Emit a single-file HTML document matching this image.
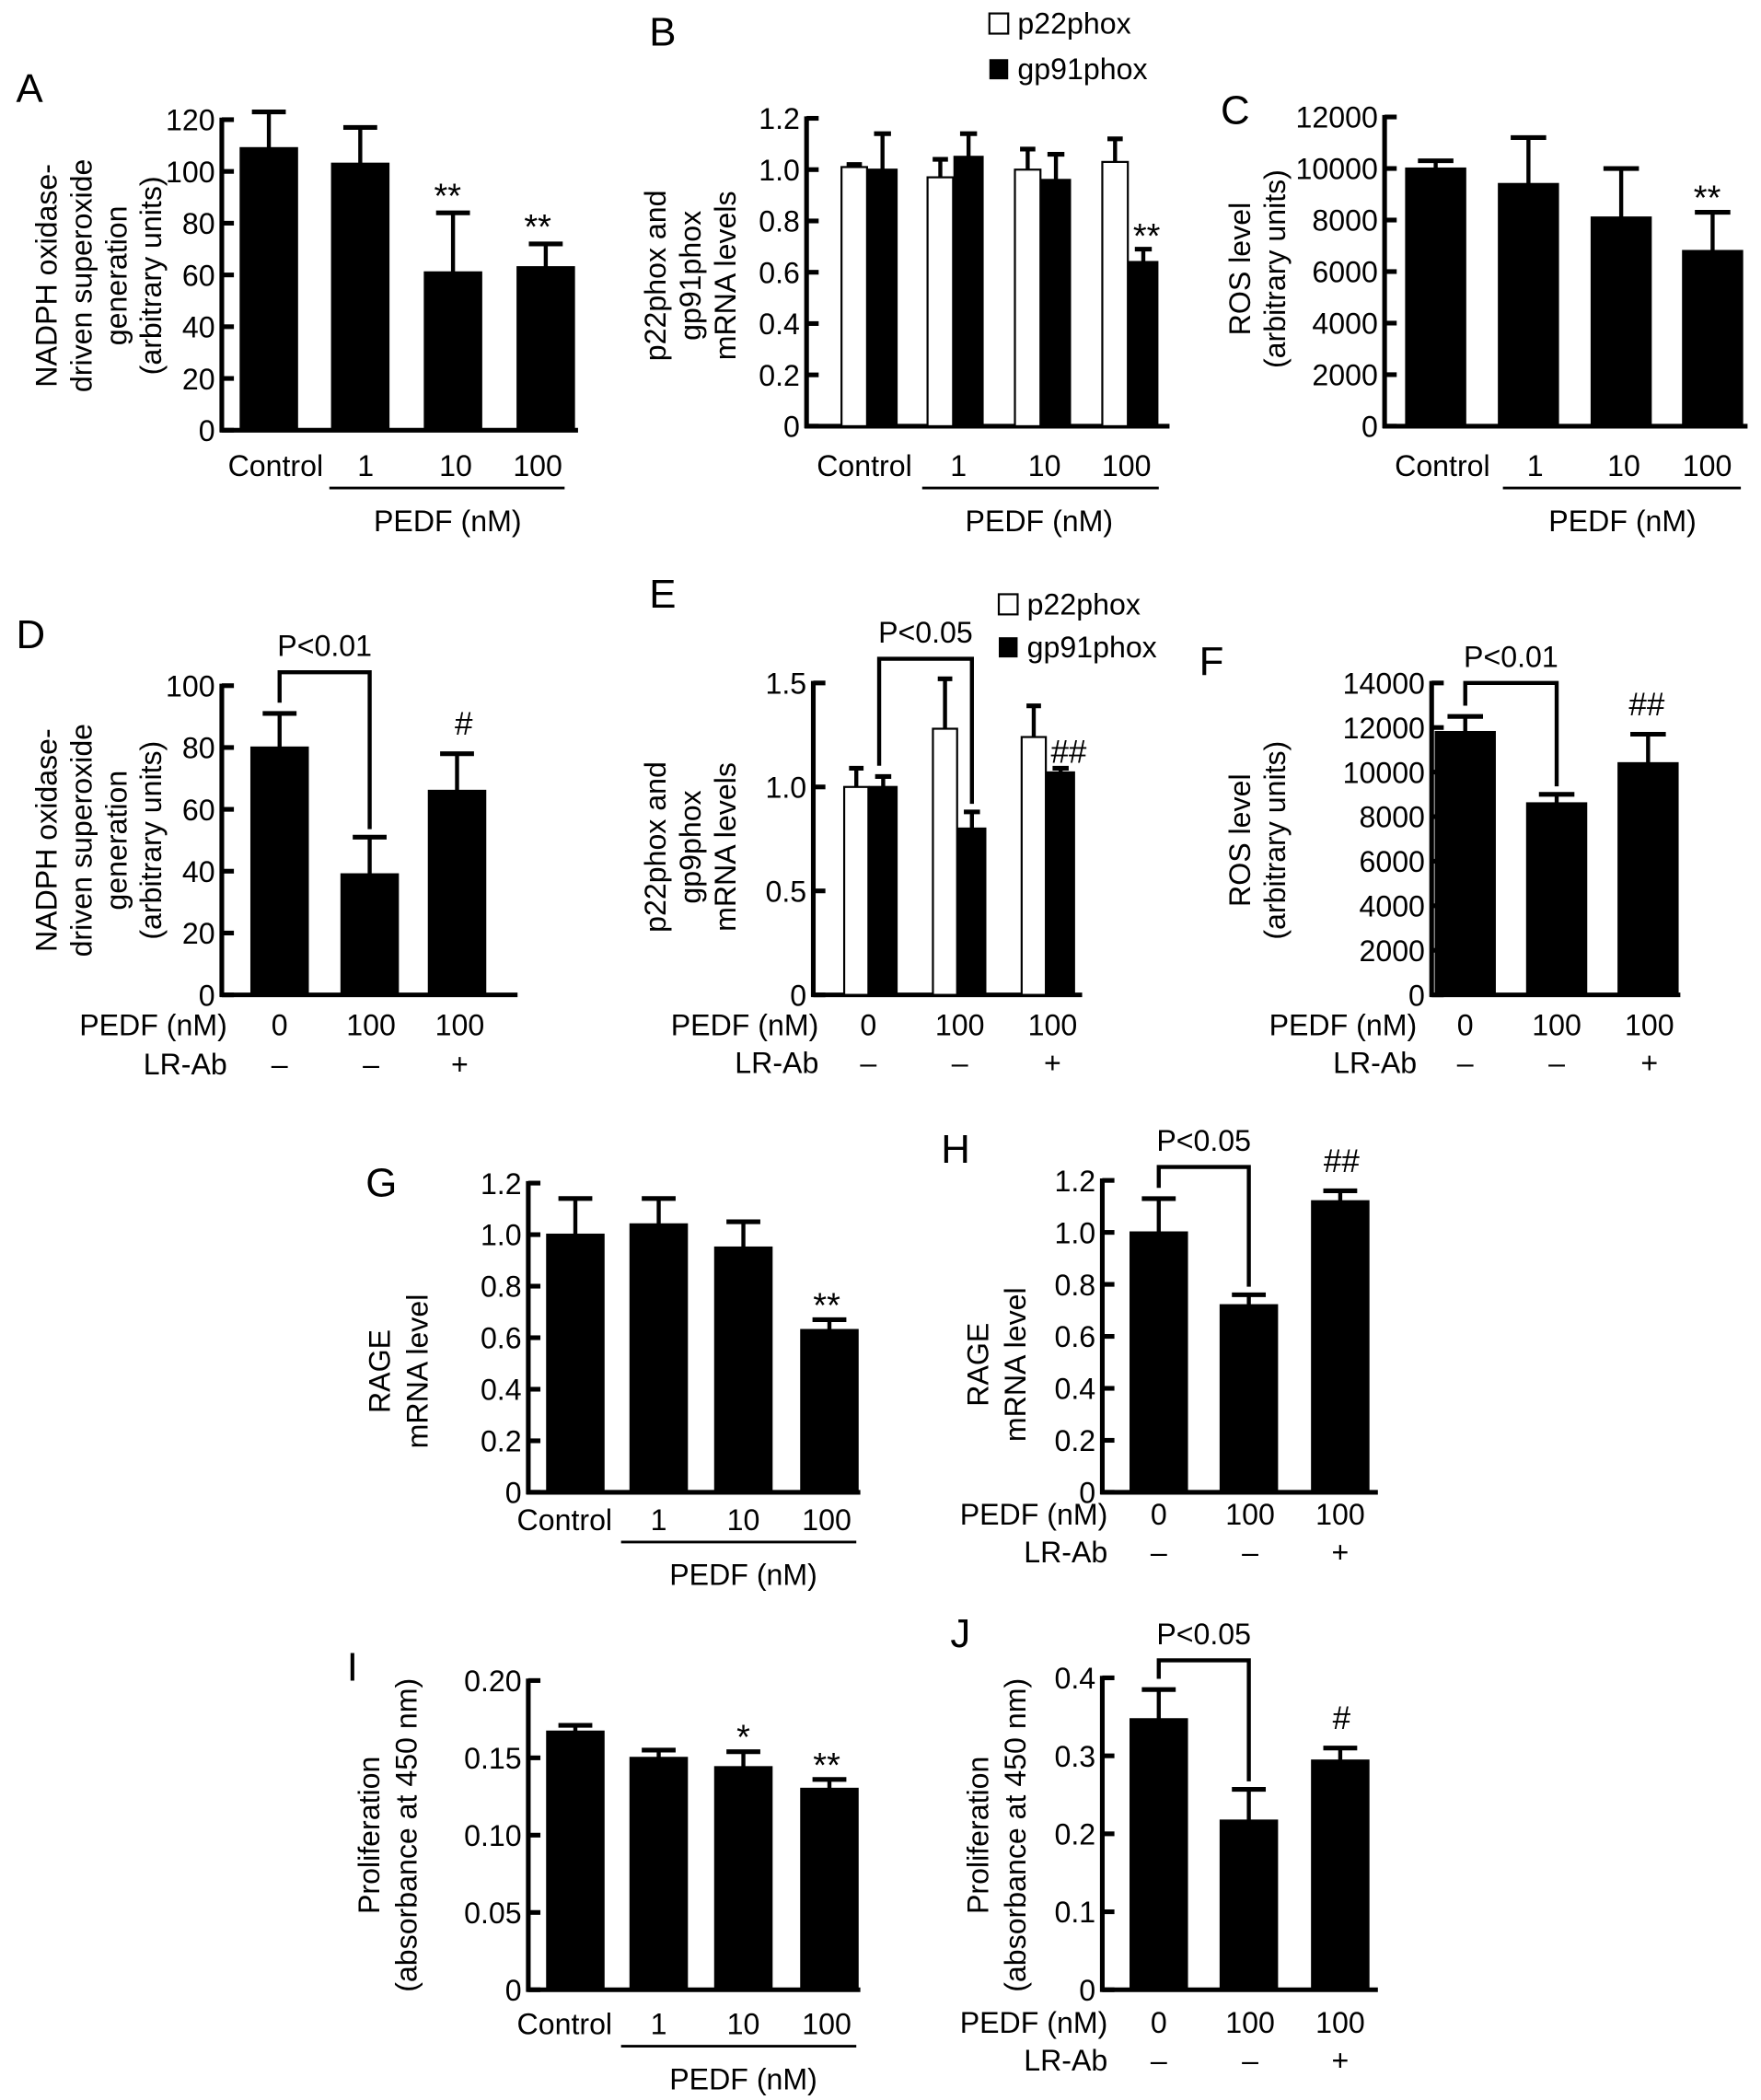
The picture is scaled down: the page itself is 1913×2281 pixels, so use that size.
<!DOCTYPE html>
<html><head><meta charset="utf-8">
<style>
html,body{margin:0;padding:0;background:#fff;}
svg{display:block;}
text{font-family:"Liberation Sans",Arial,sans-serif;fill:#000;}
</style></head>
<body>
<svg id="fig" xmlns="http://www.w3.org/2000/svg" width="1913" height="2281" viewBox="0 0 1310 1562" preserveAspectRatio="none"></svg>
<script>
// ---------- DATA ----------
const catsA = ["Control","1","10","100"];
const valsA = [109,103,61,63];
const errsA = [123,117,84,72];
const ticksA = [0,20,40,60,80,100,120];

const catsB = ["Control","1","10","100"];
const p22B = [1.01,0.97,1.0,1.03];
const p22ErrB = [1.02,1.04,1.08,1.12];
const gp91B = [1.0,1.05,0.96,0.64];
const gp91ErrB = [1.14,1.14,1.06,0.69];
const ticksB = [0,0.2,0.4,0.6,0.8,1.0,1.2];
const tickLabB = ["0","0.2","0.4","0.6","0.8","1.0","1.2"];

const catsC = ["Control","1","10","100"];
const valsC = [10000,9400,8100,6800];
const errsC = [10300,11200,10000,8300];
const ticksC = [0,2000,4000,6000,8000,10000,12000];

const pedfD = ["0","100","100"];
const lrD = ["–","–","+"];
const valsD = [80,39,66];
const errsD = [91,51,78];
const ticksD = [0,20,40,60,80,100];

const pedfE = ["0","100","100"];
const lrE = ["–","–","+"];
const p22E = [1.0,1.28,1.24];
const p22ErrE = [1.09,1.52,1.39];
const gp91E = [1.0,0.8,1.07];
const gp91ErrE = [1.05,0.88,1.09];
const ticksE = [0,0.5,1.0,1.5];
const tickLabE = ["0","0.5","1.0","1.5"];

const pedfF = ["0","100","100"];
const lrF = ["–","–","+"];
const valsF = [11800,8600,10400];
const errsF = [12500,9000,11700];
const ticksF = [0,2000,4000,6000,8000,10000,12000,14000];

const catsG = ["Control","1","10","100"];
const valsG = [1.0,1.04,0.95,0.63];
const errsG = [1.14,1.14,1.05,0.67];
const ticksG = [0,0.2,0.4,0.6,0.8,1.0,1.2];
const tickLabG = ["0","0.2","0.4","0.6","0.8","1.0","1.2"];

const pedfH = ["0","100","100"];
const lrH = ["–","–","+"];
const valsH = [1.0,0.72,1.12];
const errsH = [1.13,0.76,1.16];
const ticksH = [0,0.2,0.4,0.6,0.8,1.0,1.2];
const tickLabH = ["0","0.2","0.4","0.6","0.8","1.0","1.2"];

const catsI = ["Control","1","10","100"];
const valsI = [0.167,0.150,0.144,0.130];
const errsI = [0.171,0.155,0.154,0.136];
const ticksI = [0,0.05,0.10,0.15,0.20];
const tickLabI = ["0","0.05","0.10","0.15","0.20"];

const pedfJ = ["0","100","100"];
const lrJ = ["–","–","+"];
const valsJ = [0.347,0.217,0.294];
const errsJ = [0.385,0.257,0.31];
const ticksJ = [0,0.1,0.2,0.3,0.4];
const tickLabJ = ["0","0.1","0.2","0.3","0.4"];

// ---------- DRAWING ----------
const NS = "http://www.w3.org/2000/svg";
const svg = document.getElementById('fig');
const FS = 22;
function mk(tag, attrs, parent, txt){
  const e = document.createElementNS(NS, tag);
  for (const k in attrs) e.setAttribute(k, attrs[k]);
  if (txt !== undefined) e.textContent = txt;
  (parent || svg).appendChild(e);
  return e;
}
function group(name){
  const g = mk('g', {});
  
  
  return g;
}
function txt(g, x, y, s, size, anchor, name){
  const t = mk('text', {x:x, y:y, 'font-size':size, 'text-anchor':anchor||'middle'}, g, s);
  
  
  return t;
}
function line(g, x1, y1, x2, y2, w, name){
  const l = mk('line', {x1:x1, y1:y1, x2:x2, y2:y2, stroke:'#000', 'stroke-width':w||2.5}, g);
  
  
  return l;
}
function makeScale(y0, yTop, max){ return v => y0 - (v/max)*(y0 - yTop); }

function axes(g, ax, y0, xEnd, ys, ticks, labels){
  line(g, ax, ys(ticks[ticks.length-1]) - 1.5, ax, y0 + 1.5, 3.5, 'y-axis');
  line(g, ax - 1.5, y0, xEnd, y0, 3.5, 'x-axis');
  ticks.forEach((t, i) => {
    const y = ys(t);
    line(g, ax, y, ax + 9, y, 3.5, 'y-tick');
    txt(g, ax - 5, y + 8, labels ? labels[i] : String(t), FS, 'end', 'y-tick-label');
  });
}
function bar(g, x, w, v, e, ys, y0, fill, name){
  const top = ys(v);
  const r = mk('rect', {x:x, y:top, width:w, height:y0-top, fill:fill, stroke:'#000', 'stroke-width':1.5}, g);
  
  
  const ey = ys(e);
  line(g, x + w/2, top, x + w/2, ey, 3, 'error-bar');
  line(g, x + w/2 - w*0.3, ey, x + w/2 + w*0.3, ey, 3.5, 'error-cap');
}
function ylabel(g, cx, cy, lines, gap){
  lines.forEach((s, i) => {
    const x = cx + i*gap;
    const t = txt(g, 0, 0, s, FS, 'middle', 'y-axis-title');
    t.setAttribute('transform', `translate(${x},${cy}) rotate(-90)`);
  });
}
function pedfUnder(g, x1, x2, yl, cx){
  line(g, x1, yl, x2, yl, 2, 'pedf-bracket-line');
  txt(g, cx, yl + 32, 'PEDF (nM)', FS, 'middle', 'pedf-axis-title');
}
function rows(g, ax, centers, pedf, lr, yA, yB){
  txt(g, ax + 4, yA, 'PEDF (nM)', FS, 'end', 'pedf-row-label');
  txt(g, ax + 4, yB, 'LR-Ab', FS, 'end', 'lr-ab-row-label');
  centers.forEach((c, i) => {
    txt(g, c, yA, pedf[i], FS, 'middle', 'pedf-value');
    txt(g, c, yB, lr[i], FS, 'middle', 'lr-ab-value');
  });
}
function bracket(g, xL, yL, xR, yR, yTop, label){
  const p = mk('path', {d:`M${xL},${yL} L${xL},${yTop} L${xR},${yTop} L${xR},${yR}`, fill:'none', stroke:'#000', 'stroke-width':3}, g);
  
  
  txt(g, (xL+xR)/2, yTop - 12, label, FS, 'middle', 'p-value-label');
}
function legend(g, x, y1, y2){
  const a = mk('rect', {x:x, y:y1-8, width:14, height:15, fill:'#fff', stroke:'#000', 'stroke-width':1.5}, g);
  
  
  txt(g, x + 21, y1 + 7, 'p22phox', FS, 'start', 'legend-label-p22phox');
  const b = mk('rect', {x:x, y:y2-8, width:14, height:15, fill:'#000'}, g);
  
  
  txt(g, x + 21, y2 + 7, 'gp91phox', FS, 'start', 'legend-label-gp91phox');
}
function letter(g, x, y, s){ txt(g, x, y, s, 30, 'start', 'panel-letter'); }
function star(g, x, y, s){ txt(g, x, y, s, 26, 'middle', 'significance-mark'); }

// ---- Panel A ----
(function(){
  const g = group('panel-a');
  const ax=165, y0=320, ys=makeScale(y0, 89, 120);
  const centers=[200,268,337,406], w=42;
  letter(g, 12, 76, 'A');
  axes(g, ax, y0, 430, ys, ticksA);
  valsA.forEach((v,i)=>bar(g, centers[i]-w/2, w, v, errsA[i], ys, y0, '#000', 'bar-a-'+i));
  star(g, 333, ys(errsA[2]) - 4, '**');
  star(g, 400, ys(errsA[3]) - 4, '**');
  const lx=[205,272,339,400];
  catsA.forEach((c,i)=>txt(g, lx[i], 354, c, FS, 'middle', 'x-tick-label'));
  pedfUnder(g, 245, 420, 363, 333);
  ylabel(g, 42, 205, ['NADPH oxidase-','driven superoxide','generation','(arbitrary units)'], 26);
})();

// ---- Panel B ----
(function(){
  const g = group('panel-b');
  const ax=600, y0=317, ys=makeScale(y0, 88, 1.2);
  const starts=[626,690,755,820], w=19;
  letter(g, 483, 34, 'B');
  legend(g, 736, 18, 52);
  axes(g, ax, y0, 870, ys, ticksB, tickLabB);
  catsB.forEach((c,i)=>{
    bar(g, starts[i], w, p22B[i], p22ErrB[i], ys, y0, '#fff', 'bar-b-p22phox-'+i);
    bar(g, starts[i]+w+1, w+2, gp91B[i], gp91ErrB[i], ys, y0, '#000', 'bar-b-gp91phox-'+i);
  });
  star(g, 853, ys(gp91ErrB[3]) - 1, '**');
  const lx=[643,713,777,838];
  catsB.forEach((c,i)=>txt(g, lx[i], 354, c, FS, 'middle', 'x-tick-label'));
  pedfUnder(g, 686, 862, 363, 773);
  ylabel(g, 495, 205, ['p22phox and','gp91phox','mRNA levels'], 26);
})();

// ---- Panel C ----
(function(){
  const g = group('panel-c');
  const ax=1030, y0=317, ys=makeScale(y0, 87, 12000);
  const centers=[1068,1137,1206,1274], w=44;
  letter(g, 908, 92, 'C');
  axes(g, ax, y0, 1300, ys, ticksC);
  valsC.forEach((v,i)=>bar(g, centers[i]-w/2, w, v, errsC[i], ys, y0, '#000', 'bar-c-'+i));
  star(g, 1270, ys(errsC[3]) - 2, '**');
  const lx=[1073,1142,1208,1270];
  catsC.forEach((c,i)=>txt(g, lx[i], 354, c, FS, 'middle', 'x-tick-label'));
  pedfUnder(g, 1118, 1295, 363, 1207);
  ylabel(g, 930, 200, ['ROS level','(arbitrary units)'], 26);
})();

// ---- Panel D ----
(function(){
  const g = group('panel-d');
  const ax=165, y0=740, ys=makeScale(y0, 510, 100);
  const centers=[208,275,340], w=42;
  letter(g, 12, 482, 'D');
  axes(g, ax, y0, 385, ys, ticksD);
  valsD.forEach((v,i)=>bar(g, centers[i]-w/2, w, v, errsD[i], ys, y0, '#000', 'bar-d-'+i));
  bracket(g, 208, ys(errsD[0]) - 8, 275, ys(errsD[1]) - 6, 500, 'P<0.01');
  txt(g, 345, ys(errsD[2]) - 14, '#', 24, 'middle', 'significance-mark');
  rows(g, 165, [208,276,342], pedfD, lrD, 770, 799);
  ylabel(g, 42, 625, ['NADPH oxidase-','driven superoxide','generation','(arbitrary units)'], 26);
})();

// ---- Panel E ----
(function(){
  const g = group('panel-e');
  const ax=605, y0=740, ys=makeScale(y0, 508, 1.5);
  const starts=[628,694,760], w=18;
  letter(g, 483, 452, 'E');
  legend(g, 743, 450, 482);
  axes(g, ax, y0, 805, ys, ticksE, tickLabE);
  pedfE.forEach((c,i)=>{
    bar(g, starts[i], w, p22E[i], p22ErrE[i], ys, y0, '#fff', 'bar-e-p22phox-'+i);
    bar(g, starts[i]+w+1, w+2, gp91E[i], gp91ErrE[i], ys, y0, '#000', 'bar-e-gp91phox-'+i);
  });
  bracket(g, 654, ys(gp91ErrE[0]) - 8, 723, ys(gp91ErrE[1]) - 6, 490, 'P<0.05');
  txt(g, 795, ys(gp91ErrE[2]) - 4, '##', 24, 'middle', 'significance-mark');
  rows(g, 605, [646,714,783], pedfE, lrE, 770, 798);
  ylabel(g, 495, 630, ['p22phox and','gp9phox','mRNA levels'], 26);
})();

// ---- Panel F ----
(function(){
  const g = group('panel-f');
  const ax=1065, y0=740, ys=makeScale(y0, 508, 14000);
  const centers=[1090,1158,1226], w=44;
  letter(g, 892, 502, 'F');
  axes(g, ax, y0, 1250, ys, ticksF);
  valsF.forEach((v,i)=>bar(g, centers[i]-w/2, w, v, errsF[i], ys, y0, '#000', 'bar-f-'+i));
  bracket(g, 1090, ys(errsF[0]) - 8, 1158, ys(errsF[1]) - 6, 508, 'P<0.01');
  txt(g, 1225, ys(errsF[2]) - 14, '##', 24, 'middle', 'significance-mark');
  rows(g, 1050, [1090,1158,1227], pedfF, lrF, 770, 798);
  ylabel(g, 930, 625, ['ROS level','(arbitrary units)'], 26);
})();

// ---- Panel G ----
(function(){
  const g = group('panel-g');
  const ax=393, y0=1110, ys=makeScale(y0, 880, 1.2);
  const centers=[428,490,553,617], w=42;
  letter(g, 272, 890, 'G');
  axes(g, ax, y0, 640, ys, ticksG, tickLabG);
  valsG.forEach((v,i)=>bar(g, centers[i]-w/2, w, v, errsG[i], ys, y0, '#000', 'bar-g-'+i));
  star(g, 615, ys(errsG[3]) - 2, '**');
  const lx=[420,490,553,615];
  catsG.forEach((c,i)=>txt(g, lx[i], 1138, c, FS, 'middle', 'x-tick-label'));
  pedfUnder(g, 462, 637, 1147, 553);
  ylabel(g, 290, 1020, ['RAGE','mRNA level'], 28);
})();

// ---- Panel H ----
(function(){
  const g = group('panel-h');
  const ax=820, y0=1110, ys=makeScale(y0, 878, 1.2);
  const centers=[862,929,997], w=42;
  letter(g, 700, 865, 'H');
  axes(g, ax, y0, 1025, ys, ticksH, tickLabH);
  valsH.forEach((v,i)=>bar(g, centers[i]-w/2, w, v, errsH[i], ys, y0, '#000', 'bar-h-'+i));
  bracket(g, 862, ys(errsH[0]) - 8, 929, ys(errsH[1]) - 6, 868, 'P<0.05');
  txt(g, 998, ys(errsH[2]) - 14, '##', 24, 'middle', 'significance-mark');
  rows(g, 820, [862,930,997], pedfH, lrH, 1134, 1162);
  ylabel(g, 735, 1015, ['RAGE','mRNA level'], 28);
})();

// ---- Panel I ----
(function(){
  const g = group('panel-i');
  const ax=393, y0=1480, ys=makeScale(y0, 1250, 0.20);
  const centers=[428,490,553,617], w=42;
  letter(g, 258, 1250, 'I');
  axes(g, ax, y0, 640, ys, ticksI, tickLabI);
  valsI.forEach((v,i)=>bar(g, centers[i]-w/2, w, v, errsI[i], ys, y0, '#000', 'bar-i-'+i));
  star(g, 553, ys(errsI[2]) - 2, '*');
  star(g, 615, ys(errsI[3]) - 2, '**');
  const lx=[420,490,553,615];
  catsI.forEach((c,i)=>txt(g, lx[i], 1513, c, FS, 'middle', 'x-tick-label'));
  pedfUnder(g, 462, 637, 1522, 553);
  ylabel(g, 282, 1365, ['Proliferation','(absorbance at 450 nm)'], 28);
})();

// ---- Panel J ----
(function(){
  const g = group('panel-j');
  const ax=820, y0=1480, ys=makeScale(y0, 1248, 0.4);
  const centers=[862,929,997], w=42;
  letter(g, 707, 1225, 'J');
  axes(g, ax, y0, 1025, ys, ticksJ, tickLabJ);
  valsJ.forEach((v,i)=>bar(g, centers[i]-w/2, w, v, errsJ[i], ys, y0, '#000', 'bar-j-'+i));
  bracket(g, 862, ys(errsJ[0]) - 8, 929, ys(errsJ[1]) - 6, 1235, 'P<0.05');
  txt(g, 998, ys(errsJ[2]) - 14, '#', 24, 'middle', 'significance-mark');
  rows(g, 820, [862,930,997], pedfJ, lrJ, 1512, 1540);
  ylabel(g, 735, 1365, ['Proliferation','(absorbance at 450 nm)'], 28);
})();
</script>
</body></html>
